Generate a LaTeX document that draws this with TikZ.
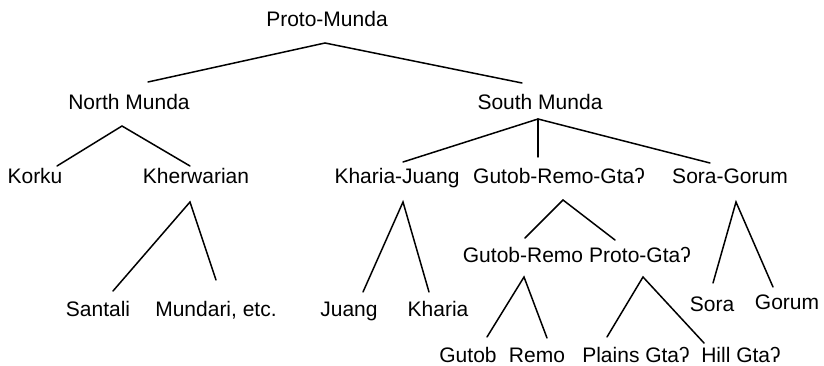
\documentclass[tikz,border=0pt]{standalone}
\usepackage{fontspec}
\setmainfont{Liberation Sans}
\usetikzlibrary{positioning}

\begin{document}
\begin{tikzpicture}[x=1pt, y=-1pt]
    \tikzset{lang/.style={anchor=base, inner sep=0pt, font=\fontsize{21}{25}\selectfont}}
    \tikzset{branch/.style={line width=1.5pt, line cap=round}}
    \useasboundingbox (0,0) rectangle (824,366);

    % top levels
    \node[lang] (pm) at (327,27) {Proto-Munda};
    \node[lang] (nm) at (129,110) {North Munda};
    \node[lang] (sm) at (540,110) {South Munda};

    % subgroups
    \node[lang] (korku) at (35,183) {Korku};
    \node[lang] (kherw) at (196,183) {Kherwarian};
    \node[lang] (kj) at (397,183) {Kharia-Juang};
    \node[lang] (grg) at (559,183) {Gutob-Remo-Gtaʔ};
    \node[lang] (sg) at (730,183) {Sora-Gorum};

    % lower levels
    \node[lang] (santali) at (98,316) {Santali};
    \node[lang] (mundari) at (216,316) {Mundari, etc.};
    \node[lang] (juang) at (349,316) {Juang};
    \node[lang] (kharia) at (438,316) {Kharia};
    \node[lang] (gr) at (523,262) {Gutob-Remo};
    \node[lang] (pg) at (640,262) {Proto-Gtaʔ};
    \node[lang] (sora) at (712,311) {Sora};
    \node[lang] (gorum) at (787,309) {Gorum};
    \node[lang] (gutob) at (468,362) {Gutob};
    \node[lang] (remo) at (537,362) {Remo};
    \node[lang] (plains) at (636,362) {Plains Gtaʔ};
    \node[lang] (hill) at (741,362) {Hill Gtaʔ};

    % branches
    \draw[branch] ([shift={(19,-28)}]nm.base) -- ([shift={(-2,16)}]pm.base)
      -- ([shift={(-18,-27)}]sm.base);
    \draw[branch] ([shift={(22,-17)}]korku.base) -- ([shift={(-7,16)}]nm.base)
      -- ([shift={(-6,-17)}]kherw.base);
    \draw[branch] ([shift={(6,-21)}]kj.base) -- ([shift={(-2,9)}]sm.base)
      -- ([shift={(-20,-20)}]sg.base);
    \draw[branch] ([shift={(-2,9)}]sm.base) -- ([shift={(-21,-26)}]grg.base);
    \draw[branch] ([shift={(15,-25)}]santali.base) -- ([shift={(-6,19)}]kherw.base)
      -- ([shift={(0,-36)}]mundari.base);
    \draw[branch] ([shift={(14,-24)}]juang.base) -- ([shift={(6,19)}]kj.base)
      -- ([shift={(-9,-24)}]kharia.base);
    \draw[branch] ([shift={(2,-24)}]gr.base) -- ([shift={(4,17)}]grg.base)
      -- ([shift={(-25,-22)}]pg.base);
    \draw[branch] ([shift={(19,-25)}]gutob.base) -- ([shift={(1,15)}]gr.base)
      -- ([shift={(10,-24)}]remo.base);
    \draw[branch] ([shift={(-29,-25)}]plains.base) -- ([shift={(3,15)}]pg.base)
      -- ([shift={(-37,-19)}]hill.base);
    \draw[branch] ([shift={(1,-28)}]sora.base) -- ([shift={(6,19)}]sg.base)
      -- ([shift={(-14,-22)}]gorum.base);
\end{tikzpicture}
\end{document}
